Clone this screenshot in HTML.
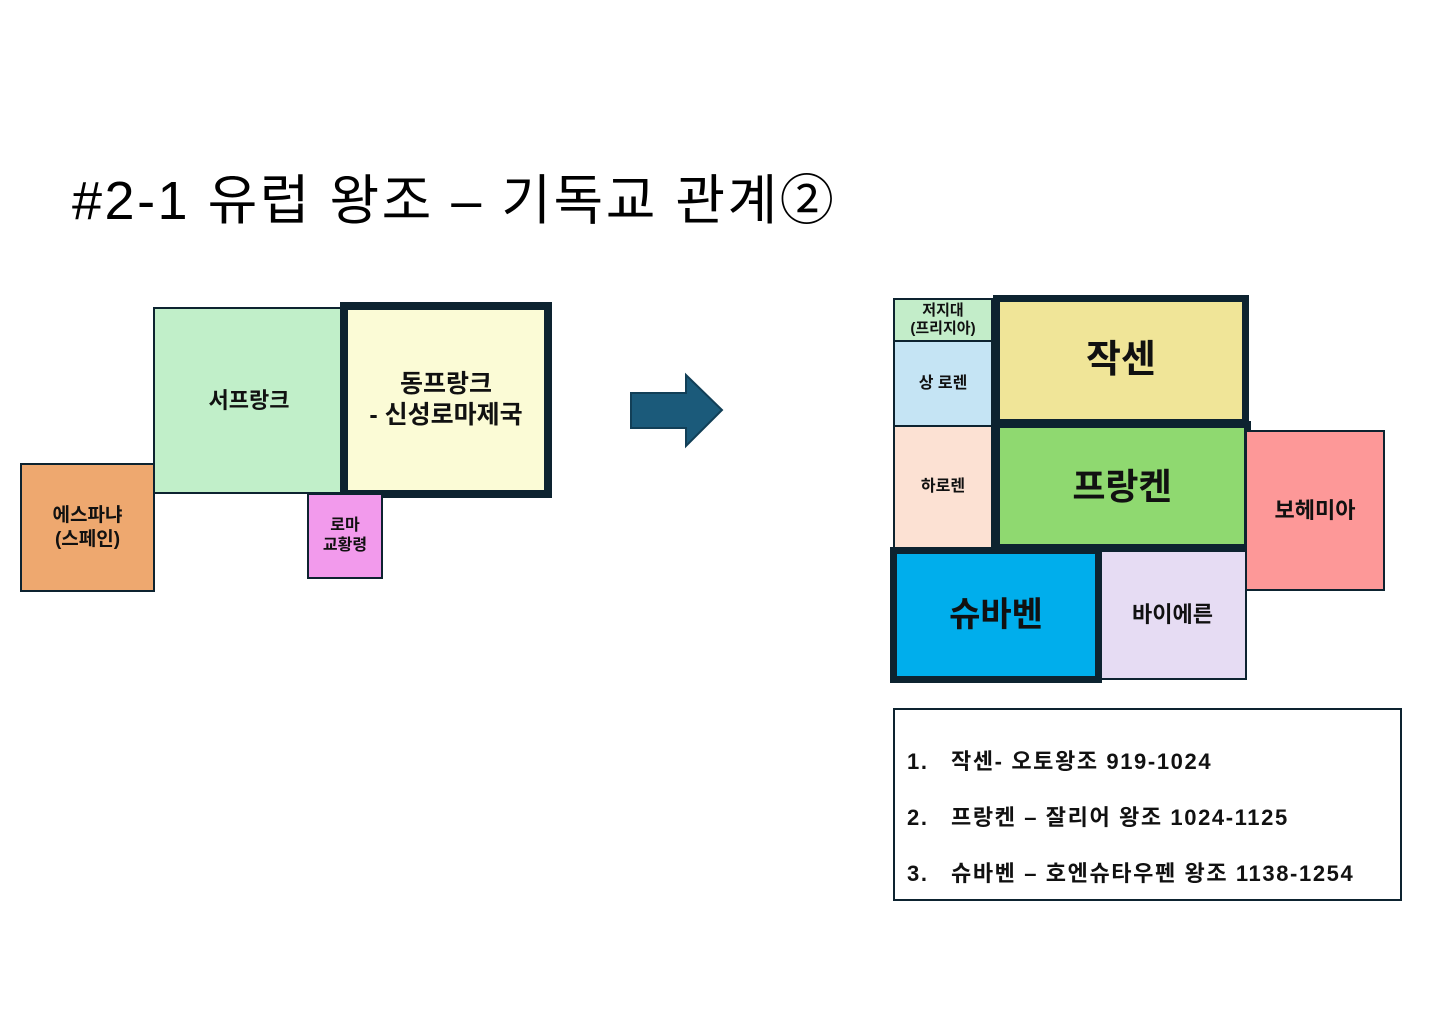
<!DOCTYPE html>
<html><head><meta charset="utf-8"><style>
body{margin:0;width:1440px;height:1018px;background:#fff;position:relative;overflow:hidden;font-family:"Liberation Sans","Noto Sans CJK KR",sans-serif;}
.b{position:absolute;box-sizing:border-box;border:2px solid #0d2330;display:flex;align-items:center;justify-content:center;text-align:center;font-weight:bold;color:#111;line-height:1.25;}
.t{border-width:7px;}
.l{position:absolute;left:12px;white-space:nowrap;display:flex;align-items:baseline;}
.l span:first-child{width:44px;display:inline-block;}
</style></head><body>
<div style="position:absolute;left:72px;top:172px;font-size:54px;color:#000;white-space:nowrap;line-height:1.1;letter-spacing:2.5px;">#2-1 유럽 왕조 – 기독교 관계②</div>

<div class="b" style="left:153px;top:307px;width:192px;height:187px;background:#c1efc9;font-size:22px;">서프랑크</div>
<div class="b t" style="left:340px;top:302px;width:212px;height:196px;background:#fbfbd6;font-size:25px;border-width:8px;">동프랑크<br>- 신성로마제국</div>
<div class="b" style="left:20px;top:463px;width:135px;height:129px;background:#eea86f;font-size:19px;">에스파냐<br>(스페인)</div>
<div class="b" style="left:307px;top:493px;width:76px;height:86px;background:#f29aec;font-size:16px;">로마<br>교황령</div>

<svg style="position:absolute;left:628px;top:372px" width="98" height="78"><polygon points="3,21 58,21 58,3 94,38 58,74 58,56 3,56" fill="#1b5a7a" stroke="#123f57" stroke-width="2"/></svg>

<div class="b" style="left:893px;top:298px;width:100px;height:44px;background:#c3edc9;font-size:15px;line-height:1.2;">저지대<br>(프리지아)</div>
<div class="b" style="left:893px;top:340px;width:100px;height:87px;background:#c5e4f4;font-size:16px;">상 로렌</div>
<div class="b" style="left:893px;top:425px;width:100px;height:124px;background:#fce1d3;font-size:16px;">하로렌</div>
<div class="b t" style="left:993px;top:295px;width:256px;height:131px;background:#f0e598;font-size:38px;">작센</div>
<div class="b t" style="left:993px;top:421px;width:258px;height:130px;background:#8fd970;font-size:36px;">프랑켄</div>
<div class="b" style="left:1245px;top:430px;width:140px;height:161px;background:#fd9898;font-size:22px;">보헤미아</div>
<div class="b" style="left:1098px;top:550px;width:149px;height:130px;background:#e6dcf3;font-size:22px;">바이에른</div>
<div class="b t" style="left:890px;top:547px;width:212px;height:136px;background:#00aeec;font-size:34px;">슈바벤</div>

<div style="position:absolute;left:893px;top:708px;width:509px;height:193px;box-sizing:border-box;border:2px solid #0d2330;font-size:22px;font-weight:bold;color:#111;letter-spacing:1.6px;">
<div class="l" style="top:34px;"><span>1.</span><span>작센- 오토왕조 919-1024</span></div>
<div class="l" style="top:90px;"><span>2.</span><span>프랑켄 – 잘리어 왕조 1024-1125</span></div>
<div class="l" style="top:146px;"><span>3.</span><span>슈바벤 – 호엔슈타우펜 왕조 1138-1254</span></div>
</div>
</body></html>
